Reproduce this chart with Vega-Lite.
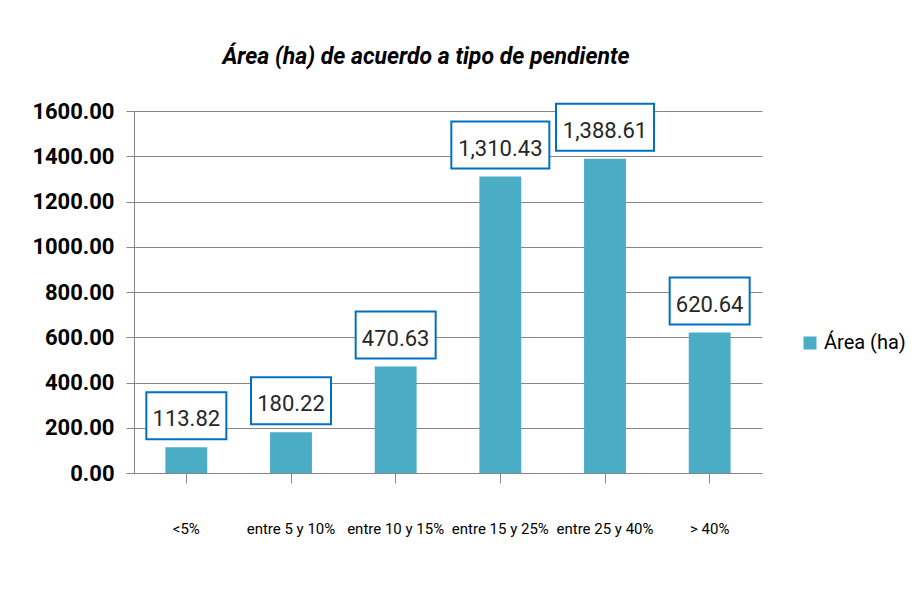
{
  "$schema": "https://vega.github.io/schema/vega-lite/v6.json",
  "width": 628,
  "height": 362,
  "autosize": {"type": "none"},
  "padding": {"left": 134, "top": 111, "right": 156, "bottom": 127},
  "background": "white",
  "title": {
    "text": "Área (ha) de acuerdo a tipo de pendiente",
    "font": "Roboto",
    "fontSize": 23,
    "fontStyle": "italic",
    "fontWeight": "bold",
    "color": "#000000",
    "anchor": "middle",
    "dx": -22,
    "offset": 31
  },
  "data": {
    "values": [
      {"pendiente": "<5%", "area": 113.82, "serie": "Área (ha)"},
      {"pendiente": "entre 5 y 10%", "area": 180.22, "serie": "Área (ha)"},
      {"pendiente": "entre 10 y 15%", "area": 470.63, "serie": "Área (ha)"},
      {"pendiente": "entre 15 y 25%", "area": 1310.43, "serie": "Área (ha)"},
      {"pendiente": "entre 25 y 40%", "area": 1388.61, "serie": "Área (ha)"},
      {"pendiente": "> 40%", "area": 620.64, "serie": "Área (ha)"}
    ]
  },
  "encoding": {
    "x": {
      "field": "pendiente",
      "type": "nominal",
      "sort": null,
      "scale": {"paddingInner": 0, "paddingOuter": 0},
      "axis": {
        "title": null,
        "labelAngle": 0,
        "tickSize": 10,
        "labelPadding": 38,
        "labelFont": "Roboto",
        "labelFontSize": 15,
        "labelColor": "#000000",
        "labelLimit": 104,
        "domainColor": "#868686",
        "tickColor": "#868686",
        "grid": false
      }
    },
    "y": {
      "field": "area",
      "type": "quantitative",
      "scale": {"domain": [0, 1600], "nice": false},
      "axis": {
        "title": null,
        "values": [0, 200, 400, 600, 800, 1000, 1200, 1400, 1600],
        "format": ".2f",
        "labelFont": "Roboto",
        "labelFontSize": 22,
        "labelFontWeight": "bold",
        "labelColor": "#000000",
        "labelPadding": 12,
        "tickSize": 8,
        "tickColor": "#868686",
        "domainColor": "#868686",
        "gridColor": "#868686",
        "grid": true
      }
    }
  },
  "layer": [
    {
      "mark": {"type": "bar", "width": {"band": 0.4}},
      "encoding": {
        "color": {
          "field": "serie",
          "type": "nominal",
          "scale": {"range": ["#4BACC6"]},
          "legend": {
            "title": null,
            "orient": "none",
            "legendX": 666,
            "legendY": 222,
            "padding": 0,
            "symbolType": "square",
            "symbolSize": 169,
            "labelFont": "Roboto",
            "labelFontSize": 20,
            "labelColor": "#000000"
          }
        }
      }
    },
    {
      "transform": [{"filter": "datum.area < 1000"}],
      "mark": {"type": "point", "shape": "M-1,-1.375H1V-0.2H-1Z", "size": 6400, "filled": true, "fill": "white", "stroke": "#0070C0", "strokeWidth": 2, "opacity": 1}
    },
    {
      "transform": [{"filter": "datum.area >= 1000"}],
      "mark": {"type": "point", "shape": "M-1,-1.122H1V-0.163H-1Z", "size": 9604, "filled": true, "fill": "white", "stroke": "#0070C0", "strokeWidth": 2, "opacity": 1}
    },
    {
      "mark": {
        "type": "text",
        "baseline": "alphabetic",
        "align": "center",
        "dy": -21,
        "font": "Roboto",
        "fontSize": 22,
        "fill": "#262626"
      },
      "encoding": {
        "text": {"field": "area", "type": "quantitative", "format": ",.2f"}
      }
    }
  ],
  "config": {"view": {"stroke": null}}
}
